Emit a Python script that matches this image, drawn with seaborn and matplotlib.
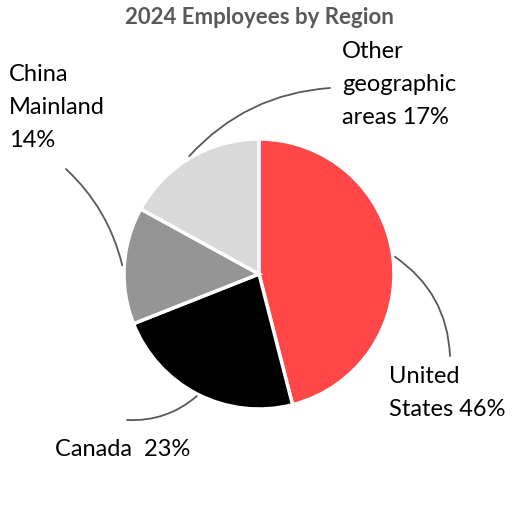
import matplotlib
matplotlib.use("Agg")
import matplotlib.pyplot as plt
import seaborn as sns
import numpy as np

categories = ["United States", "Canada", "China Mainland", "Other geographic areas"]
values = [46, 23, 14, 17]
labels = ["United\nStates 46%", "Canada  23%", "China\nMainland\n14%", "Other\ngeographic\nareas 17%"]
colors = ["#FF4747", "#000000", "#959595", "#D9D9D9"]
title = "2024 Employees by Region"

sns.set_theme(style="white")
plt.rcParams["font.family"] = ["Lato", "DejaVu Sans"]

W = 518
fig = plt.figure(figsize=(5.18, 5.18), dpi=100)
ax = fig.add_axes([0, 0, 1, 1])

cx, cy, r = 259, W - 274, 135
wedges, _ = ax.pie(values, colors=colors, startangle=90, counterclock=False,
                   center=(cx, cy), radius=r, frame=True,
                   wedgeprops=dict(edgecolor="white", linewidth=2.5))
ax.set_xlim(0, W)
ax.set_ylim(0, W)
ax.axis("off")

# label text positions (pixel, y down), alignment, leader end, rad
label_pos = [
    ((389, 366), "left", (450, 356), 0.25),
    ((55, 450), "left", (127, 420), 0.2),
    ((9, 64), "left", (66, 169), -0.15),
    ((342, 41), "left", (330, 88), 0.2),
]
for w, lab, (tp, ha, lp, rad) in zip(wedges, labels, label_pos):
    ang = np.deg2rad((w.theta1 + w.theta2) / 2)
    px = cx + (r + 2) * np.cos(ang)
    py = cy + (r + 2) * np.sin(ang)
    va = "center" if "Canada" in lab else "top"
    ax.text(tp[0], W - tp[1], lab, ha=ha, va=va, fontsize=17, color="black",
            linespacing=1.72)
    ax.annotate("", xy=(px, py), xytext=(lp[0], W - lp[1]),
                arrowprops=dict(arrowstyle="-", color="#595959", lw=1.3,
                                shrinkA=0, shrinkB=0,
                                connectionstyle=f"arc3,rad={rad}"))

ax.text(259, W - 18, title, ha="center", va="center", fontsize=16,
        fontweight="bold", color="#595959")

fig.savefig("out.png", dpi=100)
